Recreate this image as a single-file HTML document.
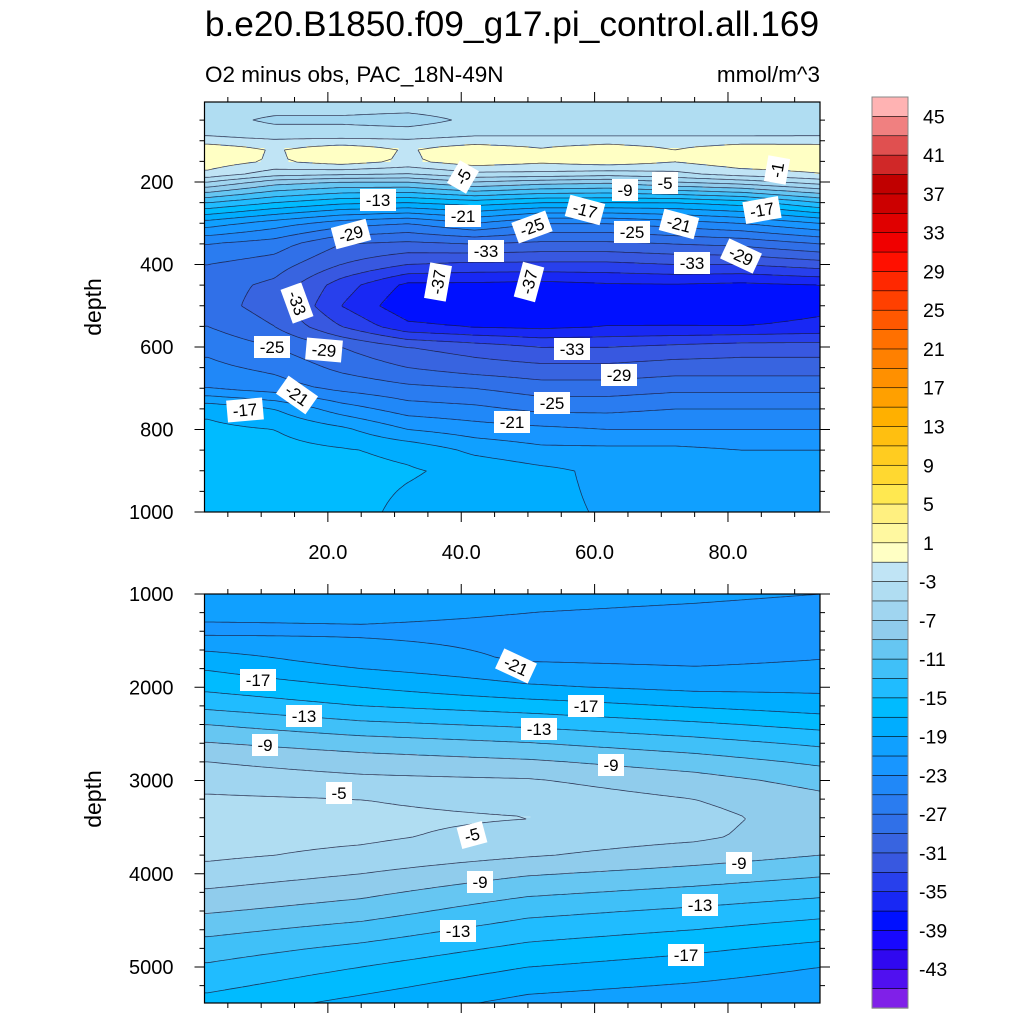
<!DOCTYPE html>
<html><head><meta charset="utf-8"><style>
body{margin:0;background:#fff;}
svg{display:block;font-family:"Liberation Sans",sans-serif;}
</style></head><body>
<svg id="chart" width="1024" height="1024" viewBox="0 0 1024 1024" xmlns="http://www.w3.org/2000/svg">
<text x="512" y="36" font-size="35.3" text-anchor="middle">b.e20.B1850.f09_g17.pi_control.all.169</text>
<text x="205" y="82" font-size="22.5">O2 minus obs, PAC_18N-49N</text>
<text x="820" y="82" font-size="22.5" text-anchor="end">mmol/m^3</text>
<text transform="translate(101,307) rotate(-90)" font-size="23" text-anchor="middle">depth</text>
<text transform="translate(101,799) rotate(-90)" font-size="23" text-anchor="middle">depth</text>
<g id="top"></g>
<g id="bot"></g>
<g id="cbar"></g>
</svg>
<script>
// ---- colour levels ----
const levels = [-45,-43,-41,-39,-37,-35,-33,-31,-29,-27,-25,-23,-21,-19,-17,-15,-13,-11,-9,-7,-5,-3,-1,1,3,5,7,9,11,13,15,17,19,21,23,25,27,29,31,33,35,37,39,41,43,45];
const colors = ["#8020E8","#5010F0","#3008F0","#1808FF","#0010FF","#1828F4","#2840EC","#3858E0","#3864E0","#3070E8","#2A7CF0","#2088F8","#1896FF","#10A0FF","#00ADFF","#00BBFF","#20BCFF","#40C0F8","#66C6F2","#90CCEC","#A0D5F0","#B0DDF2","#C0E4F5","#FFFFC4","#FFF8A0","#FFF080","#FFE850","#FFD830","#FFCC20","#FFBF10","#FFB000","#FFA000","#FF9000","#FF8000","#FF7000","#FF5800","#FF4000","#FF2800","#FF1000","#F00000","#E00000","#CC0000","#C00000","#D02828","#E05050","#F08080","#FFB3B3"];
const cbarLabels = [45,41,37,33,29,25,21,17,13,9,5,1,-3,-7,-11,-15,-19,-23,-27,-31,-35,-39,-43];

// ---- top panel data ----
const topLats = [2,12,22,32,42,52,62,72,82,94];
const topDepths = [6,50,90,120,150,180,200,250,300,350,400,450,500,550,600,650,700,750,800,850,900,1000];
const topValues = [
[-3.5,-3.5,-3.5,-3.5,-3.5,-3.5,-3.5,-3.5,-3.5,-3.5],
[-4,-5.5,-5.5,-6,-4.5,-4,-4.5,-4,-4.5,-4],
[-3,-3.5,-3.5,-3.5,-3,-3,-3,-3,-3,-3],
[0.3,-1.2,0.2,-1.2,0.2,-0.8,0.3,-1,0.3,0.2],
[0.2,-1.3,0.1,-1.4,0.3,-0.6,0.2,-0.9,0.4,0.3],
[-1.5,-4,-4.5,-5,-3.5,-3.5,-4,-3.5,-2,-1],
[-5,-8,-9,-9,-7,-8,-8.5,-7,-6,-4],
[-13,-15,-16.5,-17,-16,-17,-17,-17,-16,-13],
[-20,-22,-24,-25,-23,-25,-25,-24,-23,-21],
[-25,-26,-29,-29.5,-29,-29.5,-29.5,-29,-28.5,-27],
[-27,-28,-31,-33,-33.5,-33.5,-33.5,-33,-33,-32],
[-28,-29.5,-34,-37.5,-37.5,-37.8,-37.3,-37.2,-37.5,-37],
[-28,-30,-35,-38.5,-38.5,-38.5,-38,-37.8,-38.3,-37.5],
[-27,-29,-33,-36.5,-37.2,-37.5,-37,-37,-37,-36.5],
[-25.5,-27,-29,-31,-32,-33,-33,-32.5,-32,-32],
[-24.5,-25.5,-27.5,-29,-30,-30.5,-30.5,-30,-30,-30],
[-23,-24,-25.5,-26.5,-27,-28,-28,-27.5,-27.5,-27.5],
[-17.5,-19,-22,-24,-24.5,-25.5,-25.5,-25,-25,-25],
[-16.5,-17,-18.5,-21,-22,-22.5,-23,-23,-23,-23],
[-16,-16.3,-16.8,-17.5,-19.5,-20.5,-20.5,-20.5,-21,-21],
[-16,-16,-16.3,-16.8,-17.5,-18.5,-19.5,-19.5,-19.5,-20],
[-16,-16,-16.2,-17.5,-18,-18.5,-19.2,-19.5,-19.5,-19.5]];

// ---- bottom panel data ----
const botLats = [2,25,50,75,94];
const botDepths = [1000,1200,1400,1700,2000,2200,2400,2600,2800,3000,3200,3400,3600,3800,4000,4200,4400,4600,4800,5000,5200,5386];
const botValues = [
[-20,-20,-20,-20.5,-21],
[-20.5,-20.5,-21,-21.5,-22],
[-21.5,-21.3,-21.5,-22.2,-22.5],
[-18,-20,-21.2,-21.5,-21],
[-15.5,-17,-18.7,-19.5,-19.5],
[-13.5,-15,-16,-17.2,-18],
[-11,-12.5,-13.4,-14.6,-15.7],
[-8.9,-10,-10.9,-12.2,-13.4],
[-7,-8,-8.7,-10,-11.4],
[-5.8,-6.5,-6.8,-8.2,-9.7],
[-4.7,-5,-5.8,-7,-8.5],
[-4.2,-4.5,-4.95,-6.3,-8],
[-4.2,-4.6,-5.8,-6.6,-8.2],
[-4.6,-5.5,-6.8,-8,-9],
[-5.8,-7,-8.8,-9.8,-10.7],
[-7.3,-8.5,-10.6,-11.6,-12.5],
[-8.8,-10,-12.4,-13.4,-14.3],
[-10.4,-11.8,-14,-15,-16],
[-12,-13.5,-15.5,-16.6,-17.6],
[-13.3,-15,-17,-18,-19],
[-14.5,-16.3,-18.4,-19.2,-20],
[-15.7,-17.6,-19.6,-20.3,-21]];

const topXTicks = [20,40,60,80];
const topXTickLabels = ["20.0","40.0","60.0","80.0"];
const topYTicks = [200,400,600,800,1000];
const botYTicks = [1000,2000,3000,4000,5000];

const topLabels = [[-5,463,177,-60],[-13,378,200,0],[-21,463,216,0],[-29,351,234,-15],[-17,585,210,15],[-9,625,190,0],[-5,665,183,0],[-1,777,170,-80],[-25,532,227,-20],[-25,632,232,0],[-21,679,224,15],[-17,762,210,-10],[-33,486,251,0],[-37,438,282,-80],[-37,529,282,-75],[-33,692,263,0],[-29,741,256,25],[-33,297,303,70],[-25,272,347,0],[-29,324,350,5],[-33,572,349,0],[-29,619,375,0],[-21,297,395,35],[-17,245,410,-5],[-25,552,403,0],[-21,512,422,0]];
const botLabels = [[-21,516,666,25],[-17,258,680,0],[-17,586,706,0],[-13,304,716,0],[-13,539,729,0],[-9,265,745,0],[-9,611,765,0],[-5,339,793,0],[-5,472,835,-15],[-9,739,863,0],[-9,480,882,0],[-13,700,905,0],[-13,458,931,0],[-17,686,955,0]];

const NS="http://www.w3.org/2000/svg";
function mk(tag, attrs, parent){const e=document.createElementNS(NS,tag);for(const k in attrs)e.setAttribute(k,attrs[k]);parent.appendChild(e);return e;}
function colorFor(v){let i=0;while(i<levels.length&&v>=levels[i])i++;return colors[i];}
function interp(arr,v){
  if(v<=arr[0])return [0,0];
  for(let i=0;i<arr.length-1;i++){if(v<=arr[i+1])return [i,(v-arr[i])/(arr[i+1]-arr[i])];}
  return [arr.length-2,1];
}
function field(lats,depths,vals,lat,dep){
  const [j,fx]=interp(lats,lat),[i,fy]=interp(depths,dep);
  const a=vals[i][j],b=vals[i][j+1],c=vals[i+1][j],d=vals[i+1][j+1];
  return a*(1-fx)*(1-fy)+b*fx*(1-fy)+c*(1-fx)*fy+d*fx*fy;
}

function panel(g,opt){
  const {x0,x1,y0,y1,lat0,lat1,d0,d1,lats,depths,vals,name}=opt;
  const xs=l=>x0+(l-lat0)/(lat1-lat0)*(x1-x0);
  const ys=d=>y0+(d-d0)/(d1-d0)*(y1-y0);
  const latOf=x=>lat0+(x-x0)/(x1-x0)*(lat1-lat0);
  const depOf=y=>d0+(y-y0)/(y1-y0)*(d1-d0);
  const step=2;
  const W=Math.ceil((x1-x0)/step),H=Math.ceil((y1-y0)/step);
  const cells=mk('g',{},g);
  
  
  for(let r=0;r<H;r++){
    const y=y0+r*step,dep=depOf(y+step/2);
    let startC=0,cur=null;
    for(let c=0;c<=W;c++){
      const col=c<W?colorFor(field(lats,depths,vals,latOf(x0+c*step+step/2),dep)):null;
      if(col!==cur){
        if(cur!==null){const w=Math.min(x1,x0+c*step)-(x0+startC*step);
          const re=mk('rect',{x:x0+startC*step,y:y,width:w+0.3,height:Math.min(step,y1-y)+0.3,fill:cur},cells);
          
          }
        cur=col;startC=c;
      }
    }
  }
  const gs=3,GW=Math.ceil((x1-x0)/gs),GH=Math.ceil((y1-y0)/gs);
  const F=[];
  for(let r=0;r<=GH;r++){F[r]=[];for(let c=0;c<=GW;c++){F[r][c]=field(lats,depths,vals,latOf(Math.min(x1,x0+c*gs)),depOf(Math.min(y1,y0+r*gs)));}}
  let d='';
  const X=c=>Math.min(x1,x0+c*gs),Y=r=>Math.min(y1,y0+r*gs);
  for(const L of levels){
    for(let r=0;r<GH;r++)for(let c=0;c<GW;c++){
      const v=[F[r][c],F[r][c+1],F[r+1][c+1],F[r+1][c]];
      const p=[[X(c),Y(r)],[X(c+1),Y(r)],[X(c+1),Y(r+1)],[X(c),Y(r+1)]];
      const pts=[];
      for(let k=0;k<4;k++){const a=v[k],b=v[(k+1)%4];
        if((a<L)!==(b<L)){const t=(L-a)/(b-a);const pa=p[k],pb=p[(k+1)%4];pts.push([pa[0]+t*(pb[0]-pa[0]),pa[1]+t*(pb[1]-pa[1])]);}}
      if(pts.length>=2)d+=`M${pts[0][0].toFixed(1)} ${pts[0][1].toFixed(1)}L${pts[1][0].toFixed(1)} ${pts[1][1].toFixed(1)}`;
      if(pts.length===4)d+=`M${pts[2][0].toFixed(1)} ${pts[2][1].toFixed(1)}L${pts[3][0].toFixed(1)} ${pts[3][1].toFixed(1)}`;
    }
  }
  const cl=mk('path',{d:d,fill:'none',stroke:'#1a1a3a','stroke-width':0.8,'stroke-opacity':0.8},g);
  
  
  const fr=mk('rect',{x:x0,y:y0,width:x1-x0,height:y1-y0,fill:'none',stroke:'#000','stroke-width':1.2},g);
  
  
  let td='';
  for(let l=0;l<=95;l+=5){const x=xs(l);if(x<x0-0.5||x>x1+0.5)continue;const len=l%20===0?10:5;
    td+=`M${x} ${y1}v${len}M${x} ${y0}v${-len}`;}
  const dstep=opt.minor,major=opt.major;
  for(let dv=Math.ceil(d0/dstep)*dstep;dv<=d1;dv+=dstep){const y=ys(dv);const len=dv%major===0?10:5;td+=`M${x0} ${y}h${-len}M${x1} ${y}h${len}`;}
  const tk=mk('path',{d:td,stroke:'#000','stroke-width':1},g);
  
  
  opt.yTicks.forEach(t=>{const e=mk('text',{x:x0-31,y:ys(t)+7,'font-size':20,'text-anchor':'end'},g);e.textContent=t;
    });
  if(opt.xTicks)opt.xTicks.forEach((t,i)=>{const e=mk('text',{x:xs(t),y:y1+47,'font-size':20,'text-anchor':'middle'},g);e.textContent=opt.xTickLabels[i];
    });
  opt.labels.forEach(([v,x,y,rot])=>{
    const lg=mk('g',{transform:`translate(${x},${y}) rotate(${rot})`},g);
    
    
    const w=String(v).length*10+6;
    mk('rect',{x:-w/2,y:-11,width:w,height:22,fill:'#fff'},lg);
    const t=mk('text',{x:0,y:6,'font-size':17,'text-anchor':'middle'},lg);t.textContent=v;
  });
}
panel(document.getElementById('top'),{name:'top',x0:204.5,x1:820,y0:102,y1:512,lat0:1.5,lat1:93.8,d0:6,d1:1000,lats:topLats,depths:topDepths,vals:topValues,minor:50,major:200,yTicks:topYTicks,xTicks:topXTicks,xTickLabels:topXTickLabels,labels:topLabels});
panel(document.getElementById('bot'),{name:'bottom',x0:204.5,x1:820,y0:594,y1:1003,lat0:1.5,lat1:93.8,d0:1000,d1:5386,lats:botLats,depths:botDepths,vals:botValues,minor:200,major:1000,yTicks:botYTicks,labels:botLabels});

const cb=document.getElementById('cbar');
const cbTop=97,cbBot=1008,cbx=872,cbw=36,bh=(cbBot-cbTop)/colors.length;
for(let k=0;k<colors.length;k++){
  const col=colors[colors.length-1-k];
  const r=mk('rect',{x:cbx,y:cbTop+k*bh,width:cbw,height:bh+0.3,fill:col,stroke:'#000','stroke-width':0.6},cb);
  
  
}
mk('rect',{x:cbx,y:cbTop,width:cbw,height:cbBot-cbTop,fill:'none',stroke:'#888','stroke-width':1},cb);
cbarLabels.forEach(v=>{const idx=(45-v)/2+1;const t=mk('text',{x:v<0?919:923,y:cbTop+idx*bh+7,'font-size':19.5},cb);t.textContent=v;
  });
</script>
</body></html>
